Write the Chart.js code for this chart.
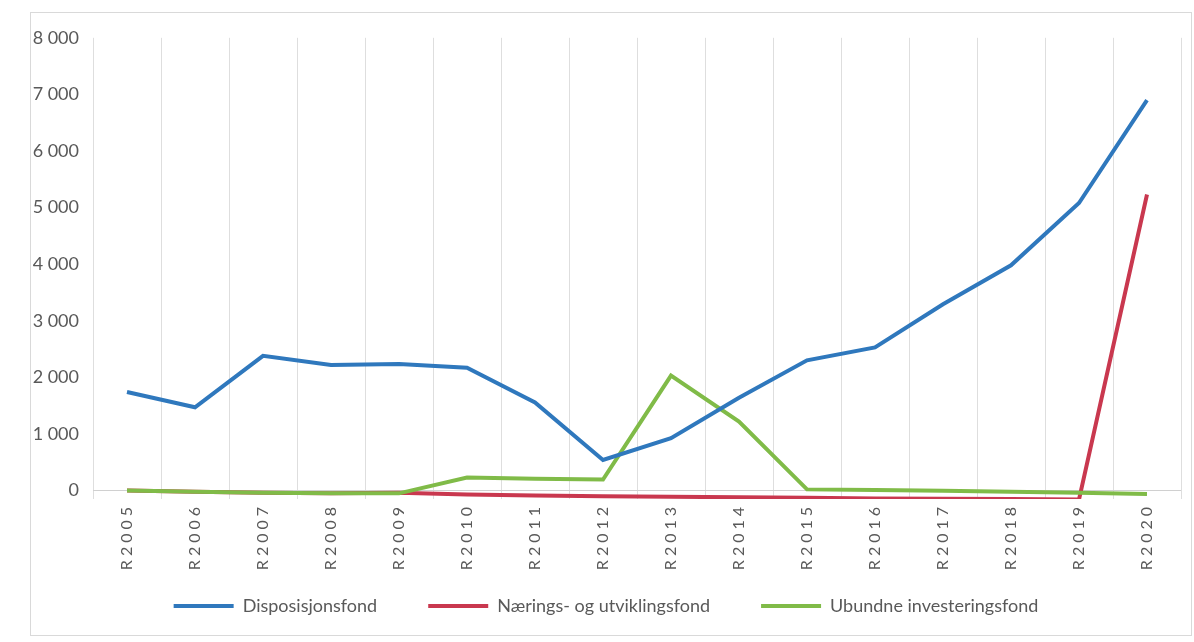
<!DOCTYPE html>
<html>
<head>
<meta charset="utf-8">
<script src="https://cdn.jsdelivr.net/npm/chart.js@4"></script>
<style>
  html, body { margin: 0; padding: 0; background: #fff; }
  #box { position: absolute; left: 30px; top: 12px; width: 1162px; height: 624px; border: 1px solid #d9d9d9; box-sizing: border-box; }
  canvas { display: block; }
</style>
</head>
<body>
<div id="box"><canvas id="myChart"></canvas></div>
<script>
const years = ['R2005','R2006','R2007','R2008','R2009','R2010','R2011','R2012','R2013','R2014','R2015','R2016','R2017','R2018','R2019','R2020'];
const disposisjonsfond = [1740, 1470, 2380, 2220, 2235, 2170, 1555, 540, 925, 1640, 2300, 2530, 3290, 3980, 5080, 6900];
const naeringsfond = [0, -20, -40, -50, -40, -70, -90, -100, -110, -120, -130, -140, -145, -150, -160, 5230];
const ubundneFond = [0, -20, -40, -50, -50, 230, 210, 195, 2030, 1220, 20, 10, -5, -20, -40, -60];
const yTicks = [0, 1000, 2000, 3000, 4000, 5000, 6000, 7000, 8000];

const gray = '#595959';
const font = "Lato, 'Noto Sans', sans-serif";

// spaced-out category labels like the original
const spacedTicks = {
  id: 'spacedTicks',
  afterUpdate(chart) {
    const s = chart.scales.x;
    if (!s || s._spaced) return;
    const orig = s.drawLabels.bind(s);
    s.drawLabels = area => {
      chart.ctx.save();
      chart.ctx.letterSpacing = '4px';
      orig(area);
      chart.ctx.restore();
    };
    s._spaced = true;
  }
};

const ctx = document.getElementById('myChart').getContext('2d');
new Chart(ctx, {
  type: 'line',
  data: {
    labels: years,
    datasets: [{
      label: 'Disposisjonsfond',
      data: disposisjonsfond,
      borderColor: '#2f78bd',
      backgroundColor: '#2f78bd',
      borderWidth: 4,
      pointRadius: 0,
      order: 1
    }, {
      label: 'Nærings- og utviklingsfond',
      data: naeringsfond,
      borderColor: '#c9384f',
      backgroundColor: '#c9384f',
      borderWidth: 4,
      pointRadius: 0,
      order: 3
    }, {
      label: 'Ubundne investeringsfond',
      data: ubundneFond,
      borderColor: '#80bb48',
      backgroundColor: '#80bb48',
      borderWidth: 4,
      pointRadius: 0,
      order: 2
    }]
  },
  options: {
    responsive: true,
    maintainAspectRatio: false,
    animation: false,
    layout: { padding: { top: 10, right: 10, bottom: 10, left: 0 } },
    plugins: {
      tooltip: { enabled: false },
      legend: {
        position: 'bottom',
        labels: {
          usePointStyle: true,
          pointStyle: 'line',
          pointStyleWidth: 60,
          boxHeight: 4,
          color: gray,
          padding: 28,
          font: { family: font, size: 18 },
          sort: (a, b) => a.datasetIndex - b.datasetIndex,
          // a little extra room after the first two items
          generateLabels: chart => Chart.defaults.plugins.legend.labels.generateLabels(chart)
            .map(item => {
              if (item.datasetIndex < 2) item.text += '\u00A0\u00A0\u00A0\u00A0\u00A0';
              return item;
            })
        }
      }
    },
    scales: {
      x: {
        offset: true,
        grid: { offset: true, color: '#dedede', lineWidth: 1, drawTicks: false },
        border: { display: false },
        ticks: {
          color: gray,
          maxRotation: 90,
          minRotation: 90,
          padding: 4,
          font: { family: font, size: 16 }
        },
        afterFit: s => { s.height = 70; }
      },
      y: {
        min: -150,
        max: 8000,
        ticks: {
          color: gray,
          padding: 14,
          font: { family: font, size: 18 },
          callback: v => String(v).replace(/\B(?=(\d{3})+(?!\d))/g, ' ')
        },
        afterBuildTicks: s => { s.ticks = yTicks.map(v => ({ value: v })); },
        grid: {
          drawTicks: false,
          color: c => (c.tick && c.tick.value === 0) ? '#d0d0d0' : 'rgba(0,0,0,0)'
        },
        border: { display: false },
        afterFit: s => { s.width = 62; }
      }
    }
  },
  plugins: [spacedTicks]
});
</script>
</body>
</html>
